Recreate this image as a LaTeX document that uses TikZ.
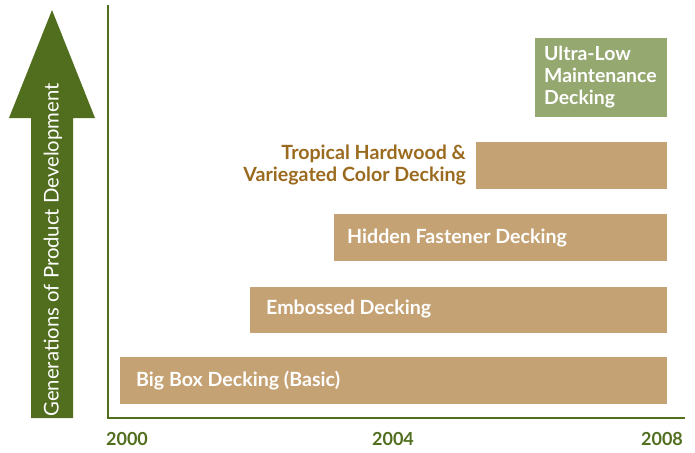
\documentclass[tikz,border=0pt]{standalone}
\usepackage{fontspec}
\setmainfont{Lato}
\definecolor{olive}{HTML}{506E1E}
\definecolor{tan}{HTML}{C4A273}
\definecolor{sage}{HTML}{94A870}
\definecolor{brownt}{HTML}{9A6A1E}
\begin{document}
\begin{tikzpicture}[x=1pt,y=-1pt,
  bar/.style={fill=tan,draw=none},
  barlabel/.style={anchor=west,text=white,font=\fontsize{19.6}{22}\selectfont\bfseries,inner sep=0pt},
  yearlbl/.style={text=olive,font=\fontsize{18}{20}\selectfont\bfseries,inner sep=0pt}]
\useasboundingbox (0,0) rectangle (695,452);
% big arrow
\fill[olive] (31,418) -- (31,118) -- (9,118) -- (52,10) -- (95,118) -- (73,118) -- (73,418) -- cycle;
\node[rotate=90,text=white,font=\fontsize{20.3}{22}\selectfont,inner sep=0pt] (arrowtxt) at (53,250) {Generations of Product Development};
% axes
\coordinate (ytop) at (108,5);
\coordinate (origin) at (108,418);
\coordinate (xend) at (685,418);
\draw[olive,line width=2.2pt] (ytop) -- (origin) -- (xend);
% bars
\fill[bar] (120,357) rectangle (667,404);
\node[barlabel] (b1) at (136,381) {Big Box Decking (Basic)};
\fill[bar] (250,287) rectangle (667,333);
\node[barlabel] (b2) at (266,309) {Embossed Decking};
\fill[bar] (334,214) rectangle (667,261);
\node[barlabel] (b3) at (347,238) {Hidden Fastener Decking};
\fill[bar] (476,142) rectangle (667,189);
\node[anchor=east,align=right,text=brownt,font=\fontsize{19.6}{22}\selectfont\bfseries,inner sep=0pt] (b4) at (466,165) {Tropical Hardwood \&\\Variegated Color Decking};
\fill[sage] (535,38) rectangle (667,117);
\node[anchor=west,align=left,text=white,font=\fontsize{19.4}{22}\selectfont\bfseries,inner sep=0pt] (b5) at (544,77) {Ultra-Low\\Maintenance\\Decking};
% years
\node[yearlbl] (y0) at (127,439) {2000};
\node[yearlbl] (y4) at (393,439) {2004};
\node[yearlbl] (y8) at (662,439) {2008};
\end{tikzpicture}
\end{document}
